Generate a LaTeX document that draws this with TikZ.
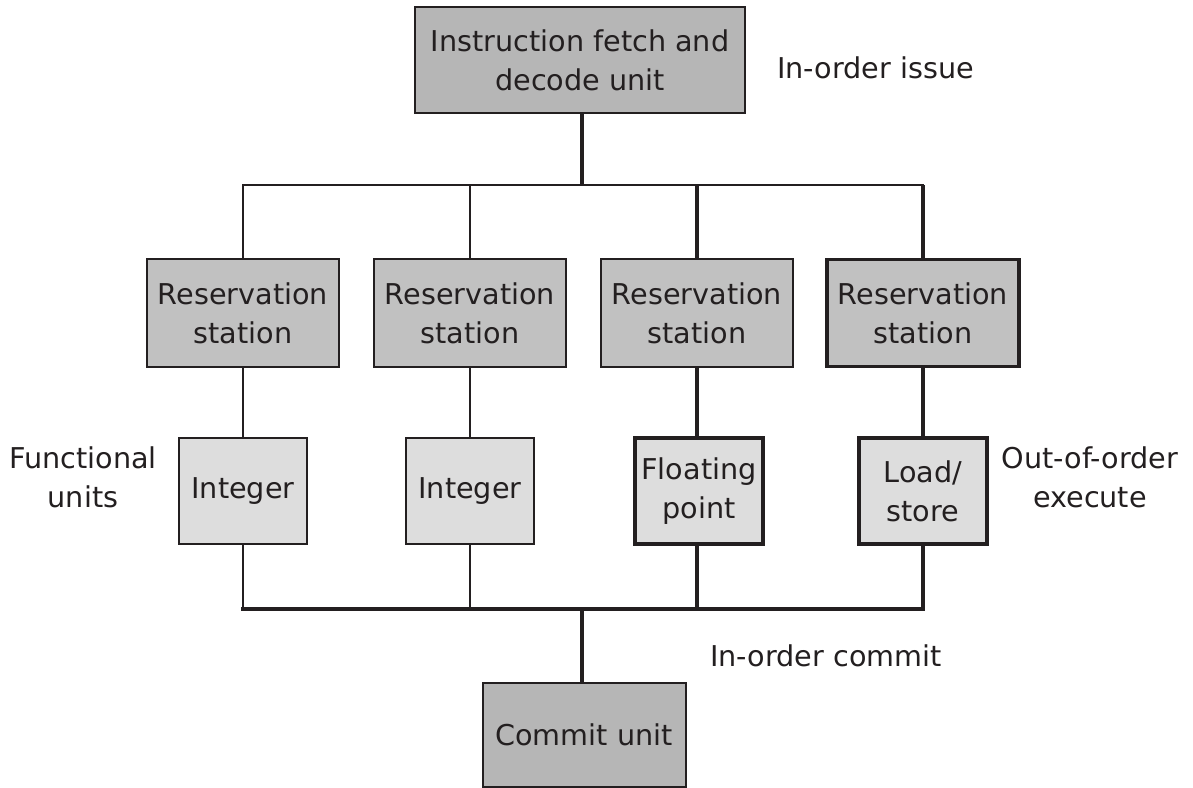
\documentclass[tikz,border=0pt]{standalone}
\usepackage{fontspec}
\setmainfont{DejaVu Sans}
\definecolor{ink}{RGB}{35,31,32}
\definecolor{darkgrey}{RGB}{182,182,182}
\definecolor{midgrey}{RGB}{193,193,193}
\definecolor{lightgrey}{RGB}{221,221,221}
\tikzset{
  unitbox/.style={draw=ink, line width=1.5pt, inner sep=0pt, align=center, text=ink,
    font=\fontsize{21.5}{29}\selectfont},
  heavybox/.style={unitbox, line width=2.7pt},
  stationbox/.style={minimum width=144pt, minimum height=80.25pt, fill=midgrey},
  fubox/.style={minimum width=96pt, minimum height=79.5pt, fill=lightgrey},
  thinline/.style={draw=ink, line width=1.5pt},
  thickline/.style={draw=ink, line width=3pt},
  sidetext/.style={inner sep=0pt, align=center, text=ink, font=\fontsize{21.5}{29}\selectfont}
}
\begin{document}
\begin{tikzpicture}[x=0.75pt,y=0.75pt,yscale=-1,xscale=1]
\useasboundingbox (0,0) rectangle (1193,788);

%Shape: Rectangle [fetch]
\node [unitbox, fill=darkgrey, minimum width=247.5pt, minimum height=79.5pt] (fetch) at (580,60) {Instruction fetch and\\decode unit};

%Shape: Rectangle [reservation stations]
\node [unitbox, stationbox] (rs1) at (243,313) {Reservation\\station};
\node [unitbox, stationbox] (rs2) at (470,313) {Reservation\\station};
\node [unitbox, stationbox] (rs3) at (697,313) {Reservation\\station};
\node [heavybox, stationbox] (rs4) at (923,313) {Reservation\\station};

%Shape: Rectangle [functional units]
\node [unitbox, fubox] (fu1) at (243,491) {Integer};
\node [unitbox, fubox] (fu2) at (470,491) {Integer};
\node [heavybox, fubox] (fu3) at (699,491) {Floating\\point};
\node [heavybox, fubox] (fu4) at (923,491) {Load/\\store};

%Shape: Rectangle [commit]
\node [unitbox, fill=darkgrey, minimum width=152.25pt, minimum height=78pt] (commit) at (584,735) {Commit unit};

%Buses
\coordinate (topbus) at (582,185);
\coordinate (botbus) at (582,609);

%Straight Lines [issue]
\draw [thickline] (fetch.south -| topbus) -- (topbus);
\draw [thinline, line cap=rect] (rs1.north) |- (topbus);
\draw [thinline, line cap=rect] (rs4.north) |- (topbus);
\draw [thinline] (rs2.north) -- (rs2.north |- topbus);
\draw [thickline] (rs3.north) -- (rs3.north |- topbus);
\draw [thickline] (rs4.north) -- (rs4.north |- topbus);

%Straight Lines [stations to units]
\draw [thinline] (rs1) -- (fu1);
\draw [thinline] (rs2) -- (fu2);
\draw [thickline] (rs3.south) -- (rs3.south |- fu3.north);
\draw [thickline] (rs4) -- (fu4);

%Straight Lines [commit]
\draw [thickline, line cap=rect] (fu1.south |- botbus) -- (fu4.south |- botbus);
\draw [thinline] (fu1.south) -- (fu1.south |- botbus);
\draw [thinline] (fu2.south) -- (fu2.south |- botbus);
\draw [thickline] (fu3.south -| rs3) -- (rs3 |- botbus);
\draw [thickline] (fu4.south) -- (fu4.south |- botbus);
\draw [thickline] (botbus) -- (commit.north -| botbus);

% Text Node
\node [sidetext, anchor=west] (issue) at (777,68) {In-order issue};
% Text Node
\node [sidetext] (fulabel) at (83,477) {Functional\\units};
% Text Node
\node [sidetext] (ooo) at (1090,477) {Out-of-order\\execute};
% Text Node
\node [sidetext, anchor=west] (commitlabel) at (710,656) {In-order commit};

\end{tikzpicture}
\end{document}
